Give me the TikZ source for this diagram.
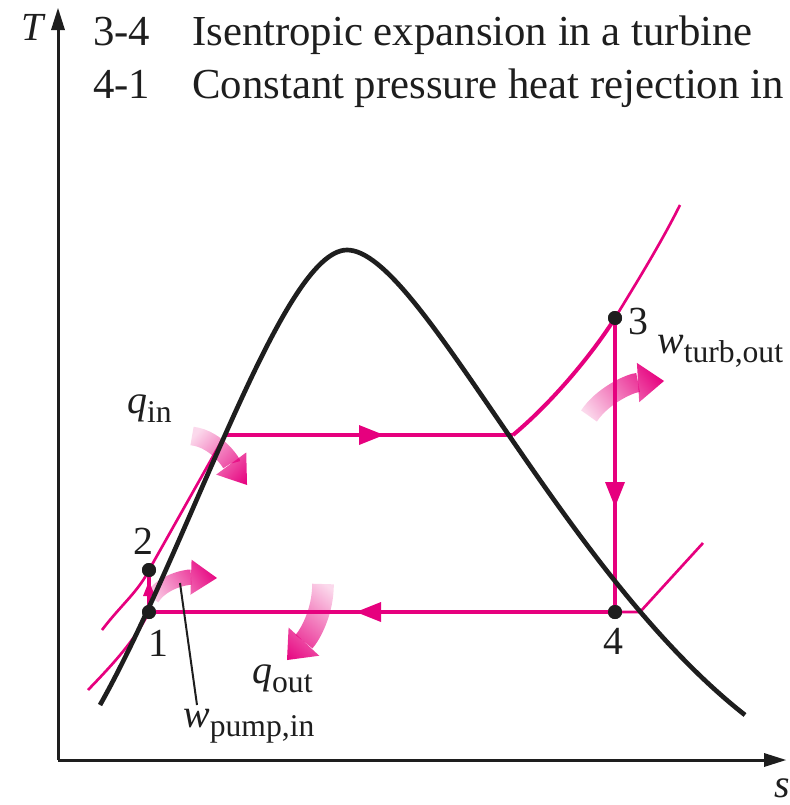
\documentclass[tikz,border=0pt]{standalone}
\usepackage{fontspec}
\setmainfont{Liberation Serif}
\usetikzlibrary{arrows.meta,fadings}
\definecolor{mag}{RGB}{230,0,126}
\definecolor{ink}{RGB}{30,30,30}
\tikzfading[name=tailfade, left color=transparent!85, right color=transparent!0]
\newcommand{\lbl}[2]{{\itshape #1}\raisebox{-0.25em}{\fontsize{27}{27}\selectfont #2}}
\begin{document}
\begin{tikzpicture}[x=0.03cm,y=-0.03cm,
  heading/.style={font=\fontsize{36.5}{40}\selectfont, anchor=base west, inner sep=0pt, text=ink},
  lab/.style={font=\fontsize{34}{36}\selectfont, inner sep=0pt, text=ink},
  dot/.style={circle, fill=ink, inner sep=0pt, minimum size=0.42cm},
  axis/.style={draw=ink, line width=0.09cm, -{Triangle[length=0.66cm,width=0.42cm,line width=0pt]}},
  dome/.style={draw=ink, line width=0.14cm},
  cyc/.style={draw=mag, line width=0.12cm},
  iso/.style={draw=mag, line width=0.08cm},
  cyctip/.style={cyc, -{Triangle[length=0.75cm,width=0.6cm,line width=0pt]}},
  fat/.style={draw=mag, path fading=tailfade},
  leader/.style={draw=ink, line width=0.06cm}]
\useasboundingbox (0,0) rectangle (790,805);

% heading text
\node[heading] (h1n) at (93,45) {3-4};
\node[heading] (h1t) at (192,45) {Isentropic expansion in a turbine};
\node[heading] (h2n) at (93,98) {4-1};
\node[heading] (h2t) at (192,98) {Constant pressure heat rejection in};

% axes
\coordinate (o) at (58,760);
\coordinate (ytop) at (58,8);
\coordinate (xend) at (786,760);
\draw[axis] (o) -- (ytop);
\draw[axis] (o) -- (xend);
\node[lab, font=\fontsize{34}{36}\selectfont\itshape] (T) at (33,27) {T};
\node[lab, font=\fontsize{34}{36}\selectfont\itshape] (s) at (782,788) {s};

% fat fading arrows (drawn first)
\coordinate (qi1) at (192,436); \coordinate (qi2) at (247,485);
\draw[fat, line width=0.56cm, -{Triangle[width=1.12cm,length=0.8cm,line width=0pt]}, fading angle=-41]
  (qi1) .. controls (218,439) and (233,466) .. (qi2);
\coordinate (wp1) at (152,598); \coordinate (wp2) at (217,578);
\draw[fat, line width=0.46cm, -{Triangle[width=1.05cm,length=0.78cm,line width=0pt]}, fading angle=16]
  (wp1) .. controls (162,582) and (185,577) .. (wp2);
\coordinate (qo1) at (323,584); \coordinate (qo2) at (287,660);
\draw[fat, line width=0.65cm, -{Triangle[width=1.25cm,length=0.75cm,line width=0pt]}, fading angle=-116]
  (qo1) .. controls (323,612) and (310,635) .. (qo2);
\coordinate (wt1) at (589,416); \coordinate (wt2) at (664,381);
\draw[fat, line width=0.58cm, -{Triangle[width=1.18cm,length=0.78cm,line width=0pt]}, fading angle=24]
  (wt1) .. controls (602,396) and (630,383) .. (wt2);

% state points
\node[dot] (p1) at (149,612) {};
\node[dot] (p2) at (149,570) {};
\node[dot] (p3) at (615,318) {};
\node[dot] (p4) at (615,612) {};
\coordinate (sl) at (225,435);
\coordinate (sv) at (513,435);

% isobars (thin)
\coordinate (hpl) at (102,630);
\coordinate (lpl) at (88,690);
\coordinate (hpe) at (680,205);
\coordinate (lpk) at (640,612);
\coordinate (lpe) at (703,543);
\draw[iso] (hpl) .. controls (120,606) and (138,592) .. (p2.center) -- (sl);
\draw[iso] (lpl) .. controls (115,662) and (135,640) .. (p1.center);
\draw[iso] (p3.center) .. controls (635,285) and (660,245) .. (hpe);
\draw[iso] (p4.center) -- (lpk) -- (lpe);

% cycle
\coordinate (a12) at (149,581);
\coordinate (a23) at (384,435);
\coordinate (a34) at (615,507);
\coordinate (a41) at (356,612);
\draw[cyc] (p1.center) -- (p2.center);
\draw[cyc, -{Triangle[length=0.45cm,width=0.36cm,line width=0pt]}] (p1.center) -- (a12);
\draw[cyc] (sl) -- (sv);
\draw[cyctip] (sl) -- (a23);
\draw[cyc] (sv) .. controls (555,400) and (595,350) .. (p3.center);
\draw[cyc] (p3.center) -- (p4.center);
\draw[cyctip] (p3.center) -- (a34);
\draw[cyc] (p4.center) -- (p1.center);
\draw[cyctip] (p4.center) -- (a41);

% saturation dome
\coordinate (d0) at (100,705);
\coordinate (dtop) at (347,250);
\coordinate (d1) at (745,715);
\draw[dome] (d0) .. controls (190,545) and (282,250) .. (dtop)
               .. controls (420,250) and (560,570) .. (d1);

% dots on top
\node[dot] at (p1) {};
\node[dot] at (p2) {};
\node[dot] at (p3) {};
\node[dot] at (p4) {};

% leader
\coordinate (ld1) at (180,583);
\coordinate (ld2) at (197,705);
\draw[leader] (ld1) -- (ld2);

% labels
\node[lab] (l1) at (158,643) {1};
\node[lab] (l2) at (143,541) {2};
\node[lab] (l3) at (638,322) {3};
\node[lab] (l4) at (613,641) {4};
\node[lab, anchor=base west] (qin) at (127,413) {\lbl{q}{in}};
\node[lab, anchor=base west] (qout) at (252,683) {\lbl{q}{out}};
\node[lab, anchor=base west] (wturb) at (657,353) {\lbl{w}{turb,out}};
\node[lab, anchor=base west] (wpump) at (183,727) {\lbl{w}{pump,in}};
\end{tikzpicture}
\end{document}
